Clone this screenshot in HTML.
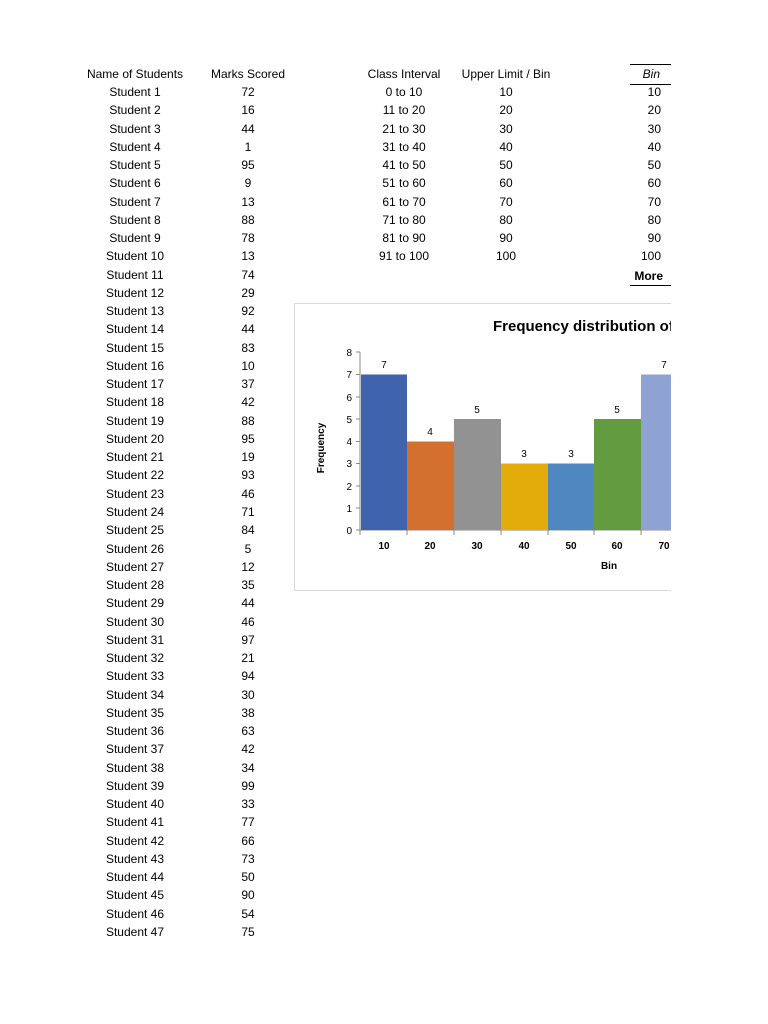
<!DOCTYPE html>
<html><head><style>
body{margin:0;background:#fff;width:768px;height:1024px;position:relative;overflow:hidden;font-family:"Liberation Sans",sans-serif;font-size:12px;color:#000}
#clip{position:absolute;left:0;top:0;width:671px;height:1024px;overflow:hidden}
.t{position:absolute;white-space:nowrap;transform:translate(-50%,-50%)}
.r{position:absolute;white-space:nowrap;transform:translate(-100%,-50%)}
</style></head><body><div id="clip">
<div class="t" style="left:135px;top:74px">Name of Students</div>
<div class="t" style="left:248px;top:74px">Marks Scored</div>
<div class="t" style="left:404px;top:74px">Class Interval</div>
<div class="t" style="left:506px;top:74px">Upper Limit / Bin</div>
<div class="r" style="left:660px;top:74px;font-style:italic">Bin</div>
<div style="position:absolute;left:630px;top:64px;width:41px;border-top:1.5px solid #000"></div>
<div style="position:absolute;left:630px;top:84px;width:41px;border-top:1px solid #000"></div>
<div style="position:absolute;left:630px;top:285px;width:41px;border-top:1.5px solid #000"></div>
<div id="rows"></div>
<svg style="position:absolute;left:0;top:0" width="671" height="1024">
<rect x="294.5" y="303.5" width="400" height="287" fill="#fff" stroke="#d9d9d9"/>
<text x="493" y="331" font-size="15" font-weight="bold" font-family="Liberation Sans">Frequency distribution of</text>
<g font-size="10" font-family="Liberation Sans" text-anchor="end">
<text x="352" y="534">0</text><text x="352" y="512">1</text><text x="352" y="490">2</text><text x="352" y="467">3</text><text x="352" y="445">4</text><text x="352" y="423">5</text><text x="352" y="401">6</text><text x="352" y="378">7</text><text x="352" y="356">8</text>
</g>
<line x1="360" y1="352" x2="360" y2="535" stroke="#888"/>
<line x1="356" y1="530" x2="671" y2="530" stroke="#888"/>
<g stroke="#888"><line x1="356" y1="352" x2="360" y2="352"/><line x1="356" y1="374.5" x2="360" y2="374.5"/><line x1="356" y1="397" x2="360" y2="397"/><line x1="356" y1="419" x2="360" y2="419"/><line x1="356" y1="441.5" x2="360" y2="441.5"/><line x1="356" y1="463.5" x2="360" y2="463.5"/><line x1="356" y1="486" x2="360" y2="486"/><line x1="356" y1="508" x2="360" y2="508"/>
<line x1="407" y1="530" x2="407" y2="535"/><line x1="454" y1="530" x2="454" y2="535"/><line x1="501" y1="530" x2="501" y2="535"/><line x1="548" y1="530" x2="548" y2="535"/><line x1="594" y1="530" x2="594" y2="535"/><line x1="641" y1="530" x2="641" y2="535"/></g>
<rect x="361" y="374.5" width="46" height="155.5" fill="#3f63ac"/>
<rect x="407" y="441.5" width="47" height="88.5" fill="#d3702f"/>
<rect x="454" y="419" width="47" height="111" fill="#929292"/>
<rect x="501" y="463.5" width="47" height="66.5" fill="#e3ac0a"/>
<rect x="548" y="463.5" width="46" height="66.5" fill="#4f88c0"/>
<rect x="594" y="419" width="47" height="111" fill="#639b40"/>
<rect x="641" y="374.5" width="47" height="155.5" fill="#8fa3d3"/>
<g font-size="10" font-family="Liberation Sans" text-anchor="middle">
<text x="384" y="368">7</text><text x="430" y="435">4</text><text x="477" y="413">5</text><text x="524" y="457">3</text><text x="571" y="457">3</text><text x="617" y="413">5</text><text x="664" y="368">7</text>
<g font-weight="bold"><text x="384" y="549">10</text><text x="430" y="549">20</text><text x="477" y="549">30</text><text x="524" y="549">40</text><text x="571" y="549">50</text><text x="617" y="549">60</text><text x="664" y="549">70</text>
<text x="609" y="569">Bin</text>
<text transform="translate(324,448) rotate(-90)">Frequency</text></g>
</g>
</svg>
</div>
<script>
var m=[72,16,44,1,95,9,13,88,78,13,74,29,92,44,83,10,37,42,88,95,19,93,46,71,84,5,12,35,44,46,97,21,94,30,38,63,42,34,99,33,77,66,73,50,90,54,75];
var ci=["0 to 10","11 to 20","21 to 30","31 to 40","41 to 50","51 to 60","61 to 70","71 to 80","81 to 90","91 to 100"];
var h="";
for(var i=0;i<47;i++){var y=92+i*18.26;
h+='<div class="t" style="left:135px;top:'+y+'px">Student '+(i+1)+'</div><div class="t" style="left:248px;top:'+y+'px">'+m[i]+'</div>';
if(i<10){h+='<div class="t" style="left:404px;top:'+y+'px">'+ci[i]+'</div><div class="t" style="left:506px;top:'+y+'px">'+((i+1)*10)+'</div><div class="r" style="left:661px;top:'+y+'px">'+((i+1)*10)+'</div>';}
if(i==10){h+='<div class="r" style="left:663px;top:'+(y+1)+'px;font-weight:bold">More</div>';}
}
document.getElementById('rows').innerHTML=h;
</script>
</body></html>
